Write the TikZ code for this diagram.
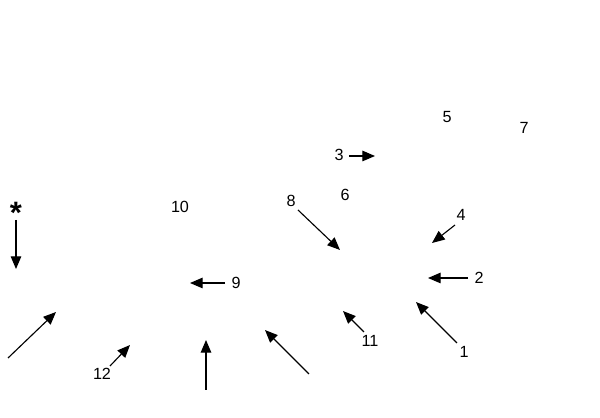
\documentclass[tikz,border=0pt]{standalone}
\usepackage{fontspec}
\setmainfont{Liberation Sans}
\usetikzlibrary{arrows.meta}
\begin{document}
\begin{tikzpicture}[x=0.025cm,y=-0.025cm]
	\tikzset{lbl/.style={inner sep=1pt,font=\fontsize{11.5}{13}\selectfont},
		pointer/.style={thick,-{Triangle[length=9pt,width=7.5pt]}}}
	\useasboundingbox (0,0) rectangle (600,418);

	% labels
	\foreach \n/\x/\y/\t in {l5/447/117/5,l7/524/128/7,l3/339/155/3,l6/345/195/6,
		l8/291/201/8,l4/461/215/4,l10/180/207/10,l2/479/278/2,l9/236/283/9,
		l1/464/352/1,l11/370/341/11,l12/102/374/12}
		\node[lbl] (\n) at (\x,\y) {\t};
	\node[font=\fontsize{22}{24}\selectfont\bfseries,inner sep=0pt] (star) at (16,213) {*};

	% arrow ends
	\foreach \n/\x/\y in {a3/375/156,a8/340/250,a4/432/243,astar/16/269,a2/428/278,
		a9/190/283,a1/416/302,a11/343/311,a12/130/345,s1/8/358,e1/56/312,
		s2/206/390,e2/206/340,s3/309/374,e3/265/330}
		\coordinate (\n) at (\x,\y);

	\draw[pointer] (349,156) -- (a3);
	\draw[pointer] (298,210) -- (a8);
	\draw[pointer] (455,225) -- (a4);
	\draw[pointer] (16,220) -- (astar);
	\draw[pointer] (468,278) -- (a2);
	\draw[pointer] (225,283) -- (a9);
	\draw[pointer] (457,343) -- (a1);
	\draw[pointer] (364,332) -- (a11);
	\draw[pointer] (110,366) -- (a12);
	\draw[pointer] (s1) -- (e1);
	\draw[pointer] (s2) -- (e2);
	\draw[pointer] (s3) -- (e3);
\end{tikzpicture}
\end{document}
